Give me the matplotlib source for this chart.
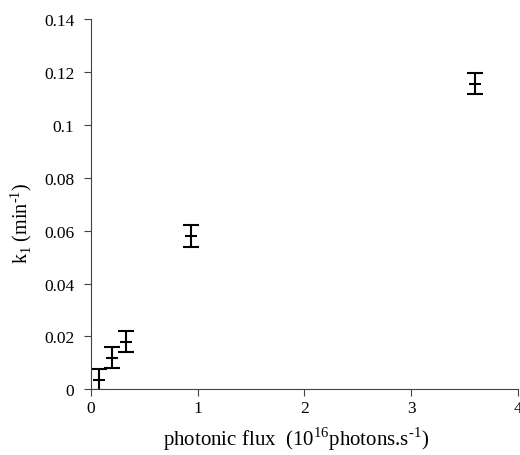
import matplotlib
matplotlib.use("Agg")
import matplotlib.pyplot as plt

plt.rcParams['font.family'] = ['Liberation Serif', 'DejaVu Serif']
plt.rcParams['mathtext.fontset'] = 'custom'
plt.rcParams['mathtext.rm'] = 'Liberation Serif'

# photonic flux (10^16 photons/s) vs k1 (1/min)
flux = [0.075, 0.20, 0.33, 0.94, 3.6]
k1 = [0.0037, 0.012, 0.018, 0.058, 0.1155]
k1_err = [0.004, 0.004, 0.004, 0.004, 0.004]

fig = plt.figure(figsize=(5.2, 4.56), dpi=100)
ax = fig.add_axes([0.175, 0.144, 0.821, 0.812])

ax.errorbar(flux, k1, yerr=k1_err, fmt='_', color='black', markersize=9,
            markeredgewidth=1.5, elinewidth=1.5, capsize=5.5, capthick=1.5)

ax.set_xlim(0, 4)
ax.set_ylim(0, 0.14)
ax.set_xticks([0, 1, 2, 3, 4])
ax.set_xticklabels(['0', '1', '2', '3', '4'])
ax.set_yticks([0, 0.02, 0.04, 0.06, 0.08, 0.1, 0.12, 0.14])
ax.set_yticklabels(['0', '0.02', '0.04', '0.06', '0.08', '0.1', '0.12', '0.14'])

for s in ['top', 'right']:
    ax.spines[s].set_visible(False)
for s in ['left', 'bottom']:
    ax.spines[s].set_color('#444444')
ax.tick_params(direction='out', length=5, color='#444444', labelsize=12.5)
ax.tick_params(axis='y', pad=7)
ax.tick_params(axis='x', pad=3)

ax.set_xlabel(r'photonic flux  (10$^{16}$photons.s$^{\text{-}1}$)', fontsize=15)
ax.set_ylabel(r'k$_1$ (min$^{\text{-}1}$)', fontsize=14.5)
ax.xaxis.set_label_coords(0.48, -0.095)
ax.yaxis.set_label_coords(-0.133, 0.45)

fig.savefig('out.png', dpi=100)
